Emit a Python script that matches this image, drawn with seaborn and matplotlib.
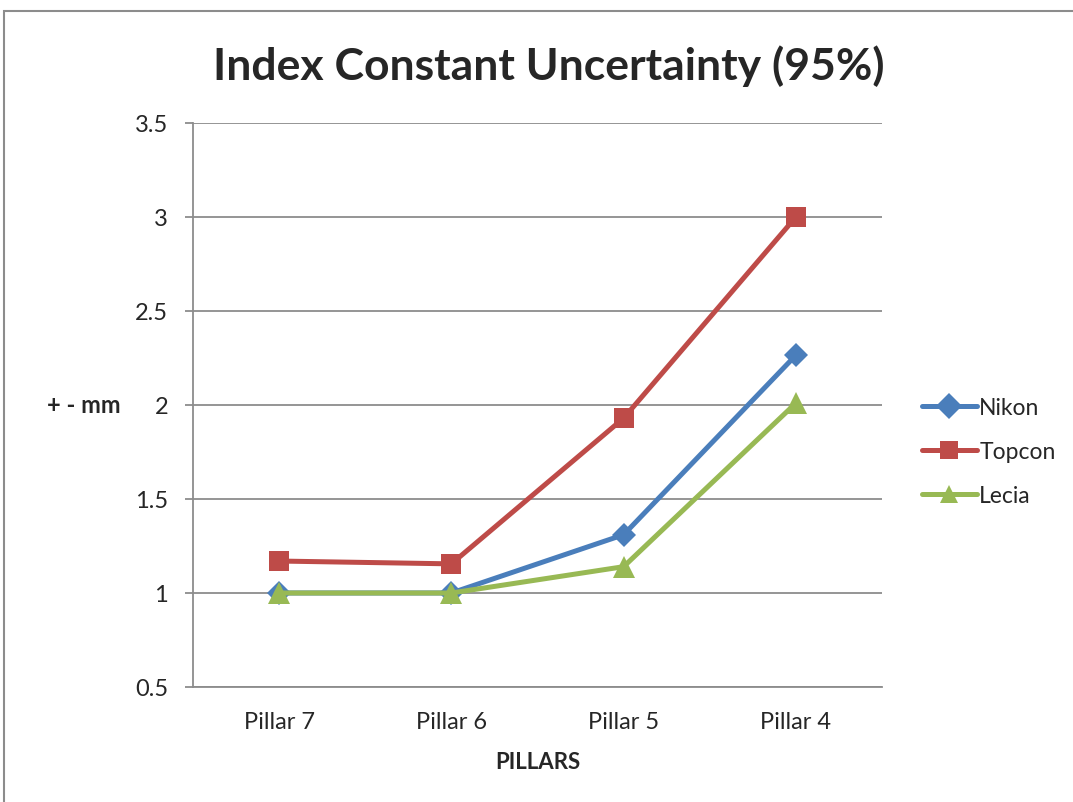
import matplotlib
matplotlib.use('Agg')
import matplotlib.pyplot as plt
import seaborn as sns
import pandas as pd
from matplotlib.patches import Rectangle

pillars = ['Pillar 7', 'Pillar 6', 'Pillar 5', 'Pillar 4']
nikon = [1.0, 1.0, 1.31, 2.265]
topcon = [1.17, 1.155, 1.93, 3.0]
lecia = [1.0, 1.0, 1.14, 2.01]
instruments = ['Nikon', 'Topcon', 'Lecia']
yticks = [0.5, 1, 1.5, 2, 2.5, 3, 3.5]

colors = {'Nikon': '#4A7EBB', 'Topcon': '#BE4B48', 'Lecia': '#98B954'}
markers = {'Nikon': 'D', 'Topcon': 's', 'Lecia': '^'}
msizes = {'Nikon': 12, 'Topcon': 15, 'Lecia': 16}

rows = []
for name, vals in zip(instruments, [nikon, topcon, lecia]):
    for p, v in zip(pillars, vals):
        rows.append({'pillar': p, 'value': v, 'inst': name})
df = pd.DataFrame(rows)

sns.set_style('white')
plt.rcParams['font.family'] = ['Lato', 'DejaVu Sans']

fig = plt.figure(figsize=(10.73, 8.03), dpi=100)
ax = fig.add_axes([193 / 1073, 115 / 803, 689 / 1073, 564 / 803])

for name in instruments:
    sub = df[df['inst'] == name]
    sns.lineplot(data=sub, x='pillar', y='value', ax=ax, sort=False,
                 color=colors[name], linewidth=3.6, marker=markers[name],
                 markersize=msizes[name], markeredgewidth=0, label=name)

ax.set_xlim(-0.5, 3.5)
ax.set_ylim(0.5, 3.5)
ax.set_yticks(yticks)
ax.set_yticklabels(['0.5', '1', '1.5', '2', '2.5', '3', '3.5'])
ax.yaxis.grid(True, color='#8c8c8c', linewidth=1.3)
ax.set_axisbelow(True)

ax.set_xticks(range(len(pillars)))
ax.set_xticklabels(pillars)
ax.set_xticks([-0.5, 0.5, 1.5, 2.5, 3.5], minor=True)
ax.tick_params(axis='x', which='major', length=0, pad=17, labelsize=17)
ax.tick_params(axis='x', which='minor', length=7, width=1.3, color='#8c8c8c', direction='out')
ax.tick_params(axis='y', length=6, width=1.3, color='#8c8c8c', labelsize=17, pad=12, left=True)

for s in ['top', 'right']:
    ax.spines[s].set_visible(False)
for s in ['left', 'bottom']:
    ax.spines[s].set_color('#8c8c8c')
    ax.spines[s].set_linewidth(1.3)

ax.set_xlabel('PILLARS', fontsize=16, fontweight='bold', labelpad=14)
ax.set_ylabel('')
fig.text(84 / 1073, 1 - 406 / 803, '+ - mm', fontsize=17, fontweight='bold',
         ha='center', va='center')

fig.text(549 / 1073, 1 - 66 / 803, 'Index Constant Uncertainty (95%)',
         fontsize=32, fontweight='bold', ha='center', va='center')

leg = ax.legend(loc='center left', bbox_to_anchor=(1.028, 0.418), frameon=False,
                fontsize=16.5, handlelength=2.4, handletextpad=0.1, labelspacing=1.0)
for h in leg.legend_handles:
    h.set_markersize(13)

fig.patches.append(Rectangle((4 / 1073, -0.1), 1.2, 1 - 12 / 803 + 0.1,
                             transform=fig.transFigure, fill=False,
                             edgecolor='#8c8c8c', linewidth=1.5))

fig.savefig('out.png', dpi=100)
